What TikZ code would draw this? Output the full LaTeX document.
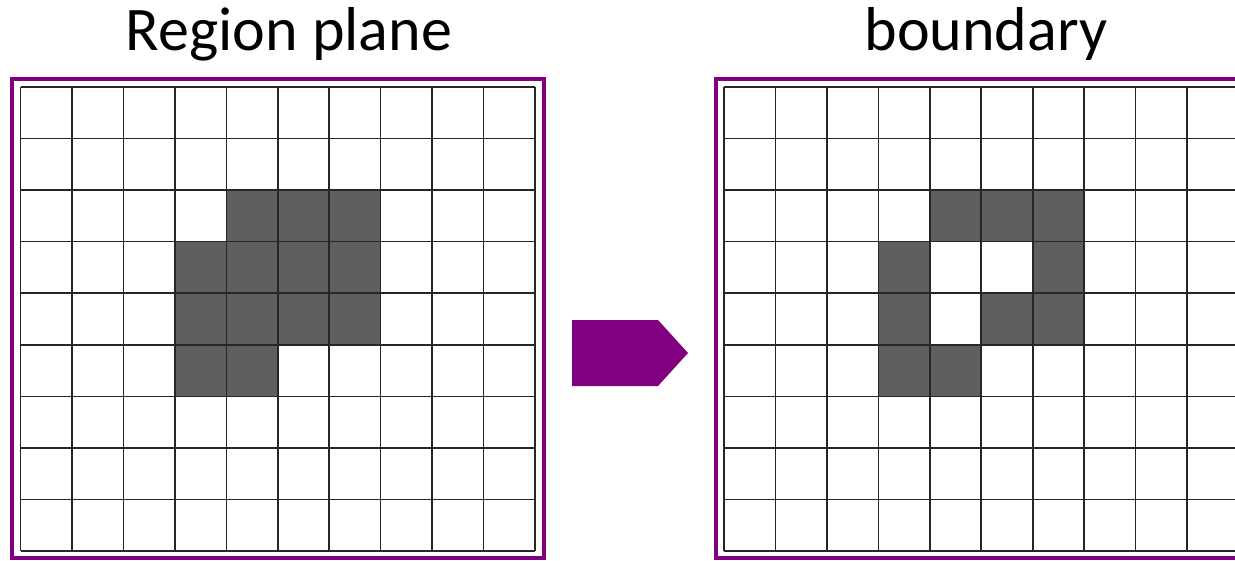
\documentclass[tikz,border=0pt]{standalone}
\usepackage{fontspec}
\setmainfont{Carlito}
\definecolor{framepurple}{HTML}{800080}
\definecolor{cellfill}{HTML}{5F5F5F}
\begin{document}
\begin{tikzpicture}[x=1pt,y=-1pt,
  gridline/.style={line width=1.6pt, draw=black!85},
  frameline/.style={line width=3.6pt, draw=framepurple},
  filled/.style={fill=cellfill},
  title/.style={font=\fontsize{62}{64}\selectfont, anchor=base, inner sep=0pt}]
\useasboundingbox (0,0) rectangle (1235,560);
\clip (0,0) rectangle (1235,560);
\def\cw{51.45}
\def\ch{51.55}
% left grid
\begin{scope}[shift={(20.5,87)}]
  \foreach \c/\r in {4/2,5/2,6/2,3/3,4/3,5/3,6/3,3/4,4/4,5/4,6/4,3/5,4/5}
    \fill[filled] (\c*\cw,\r*\ch) rectangle ++(\cw,\ch);
  \foreach \i in {0,...,10} \draw[gridline] (\i*\cw,0) -- (\i*\cw,9*\ch);
  \foreach \j in {0,...,9} \draw[gridline] (0,\j*\ch) -- (10*\cw,\j*\ch);
\end{scope}
% right grid
\begin{scope}[shift={(724,87)}]
  \foreach \c/\r in {4/2,5/2,6/2,3/3,6/3,3/4,5/4,6/4,3/5,4/5}
    \fill[filled] (\c*\cw,\r*\ch) rectangle ++(\cw,\ch);
  \foreach \i in {0,...,10} \draw[gridline] (\i*\cw,0) -- (\i*\cw,9*\ch);
  \foreach \j in {0,...,9} \draw[gridline] (0,\j*\ch) -- (10*\cw,\j*\ch);
\end{scope}
% frames
\draw[frameline] (12,79) rectangle (544,558);
\draw[frameline] (716,79) rectangle (1248,558);
% arrow
\fill[framepurple] (572,320) -- (658,320) -- (688,353) -- (658,386) -- (572,386) -- cycle;
% titles
\node[title] (t1) at (289,50) {Region plane};
\node[title] (t2) at (986,50) {boundary};
\end{tikzpicture}
\end{document}
